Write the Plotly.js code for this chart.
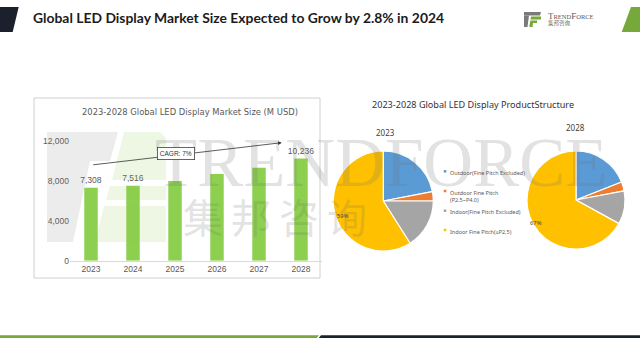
<!DOCTYPE html>
<html><head><meta charset="utf-8">
<script src="https://cdn.plot.ly/plotly-3.0.1.min.js"></script>
<style>html,body{margin:0;padding:0;background:#fff;} #chart{width:640px;height:360px;}</style>
</head><body><div id="chart"></div>
<script>
// ---- data ----
const years = ['2023', '2024', '2025', '2026', '2027', '2028'];
const marketSize = [7308, 7516, 7990, 8690, 9320, 10236];
const labeledYears = ['2023', '2024', '2028'];
const yTicks = [0, 4000, 8000, 12000];
const productTypes = ['Outdoor(Fine Pitch Excluded)', 'Outdoor Fine Pitch<br>(P2.5~P4.0)', 'Indoor(Fine Pitch Excluded)', 'Indoor Fine Pitch(≤P2.5)'];
const share2023 = [22, 3, 16, 59];
const share2028 = [19, 3, 11, 67];
const labeledSliceIndex = 3;
const sliceColors = ['#5b9bd5', '#ed7d31', '#a5a5a5', '#ffc000'];
const cagrLabel = 'CAGR: 7%';
const pageTitle = 'Global LED Display Market Size Expected to Grow by 2.8% in 2024';
const barTitle = '2023-2028 Global LED Display Market Size (M USD)';
const pieTitle = '2023-2028 Global LED Display ProductStructure';

// ---- helpers (pixel -> paper) ----
const W = 640, H = 360;
const px = x => x / W;
const py = y => 1 - y / H;
const path = pts => 'M' + pts.map(p => px(p[0]).toFixed(5) + ',' + py(p[1]).toFixed(5)).join(' L') + ' Z';
const poly = (pts, color, op) => ({type: 'path', xref: 'paper', yref: 'paper', path: path(pts), fillcolor: color, line: {width: 0}, opacity: op === undefined ? 1 : op, layer: 'above'});

const grey = '#595959';

const barTrace = {
  type: 'bar', x: years, y: marketSize, width: 0.32,
  marker: {color: '#8dcf4f'},
  texttemplate: years.map(y => labeledYears.includes(y) ? '%{y:,}' : ''),
  textposition: 'outside', cliponaxis: false, constraintext: 'none',
  textfont: {family: 'Liberation Sans, Arial, sans-serif', size: 8.5, color: grey},
  hoverinfo: 'none', xaxis: 'x', yaxis: 'y', showlegend: false
};

function pieTrace(vals, dom) {
  return {
    type: 'pie', labels: productTypes, values: vals, sort: false, direction: 'clockwise', rotation: 0,
    marker: {colors: sliceColors, line: {color: '#ffffff', width: 1.2}},
    textinfo: 'none',
    domain: dom, showlegend: false, hoverinfo: 'none'
  };
}
const pie23 = pieTrace(share2023, {x: [px(333.3), px(433.3)], y: [py(251), py(151)]});
const pie28 = pieTrace(share2028, {x: [px(527), px(625)], y: [py(249), py(151)]});
const pct = vals => Math.round(100 * vals[labeledSliceIndex] / vals.reduce((a, b) => a + b, 0)) + '%';

const shapes = [
  // header blocks
  poly([[0, 7], [18.7, 7], [12.7, 32], [0, 32]], '#1b202d'),
  poly([[631, 7], [640, 7], [640, 32], [621.7, 32]], '#76a83a'),
  // header logo icon
  poly([[524, 12], [541, 12], [540, 15.5], [524, 15.5]], '#7a7a7a'),
  poly([[524, 15.5], [529, 15.5], [527.5, 27], [524, 27]], '#7a7a7a'),
  poly([[531, 16.5], [541, 16.5], [541, 19.5], [530.5, 19.5]], '#76a83a'),
  poly([[530.3, 20.5], [537, 20.5], [537, 23], [530, 23]], '#76a83a'),
  poly([[529.8, 23], [533, 23], [532.5, 27], [529.3, 27]], '#76a83a'),
  // watermark logo
  poly([[47, 132], [118, 132], [110, 161], [47, 161]], '#8a8a8a', 0.16),
  poly([[47, 161], [90, 161], [73, 242], [47, 242]], '#8a8a8a', 0.16),
  poly([[124, 132], [160, 132], [166, 138], [166, 180], [112, 180]], '#8dcf4f', 0.16),
  poly([[110, 186], [166, 186], [166, 200], [106, 200]], '#8dcf4f', 0.16),
  poly([[104, 206], [166, 206], [166, 242], [95, 242]], '#8dcf4f', 0.16),
  // bar chart frame
  {type: 'rect', xref: 'paper', yref: 'paper', x0: px(34), x1: px(320), y0: py(278), y1: py(98), line: {color: '#d0d0d0', width: 1}, fillcolor: 'rgba(0,0,0,0)', layer: 'below'},
  // bottom lines
  poly([[0, 335.3], [319, 335.3], [316.7, 338], [0, 338]], '#76a83a'),
  poly([[321, 335.3], [640, 335.3], [640, 338], [318.7, 338]], '#1c2130')
];
// legend markers
const legendY = [171.3, 191, 210.7, 230];
productTypes.forEach((t, i) => {
  shapes.push({type: 'rect', xref: 'paper', yref: 'paper', x0: px(443.8), x1: px(446.3), y0: py(legendY[i] + 1.25), y1: py(legendY[i] - 1.25), fillcolor: sliceColors[i], line: {width: 0}});
});

const wm = 'rgba(110,110,110,0.2)';
const annotations = [
  {text: '<b>' + pageTitle + '</b>', x: px(30.5), y: py(17.5), xref: 'paper', yref: 'paper', xanchor: 'left', yanchor: 'middle', showarrow: false, font: {family: 'Lato, sans-serif', size: 13.9, color: '#1b1b1b'}},
  {text: 'T<span style="font-size:6.5px">REND</span>F<span style="font-size:6.5px">ORCE</span>', x: px(545.5), y: py(16), xref: 'paper', yref: 'paper', xanchor: 'left', yanchor: 'middle', showarrow: false, font: {family: 'Liberation Serif, serif', size: 9, color: '#5a5a5a'}},
  {text: '集邦咨询', x: px(545.5), y: py(23.5), xref: 'paper', yref: 'paper', xanchor: 'left', yanchor: 'middle', showarrow: false, font: {family: 'Noto Sans CJK SC, sans-serif', size: 5.5, color: '#666'}},
  // watermark text
  {text: 'TRENDFORCE', x: px(381), y: py(163), xref: 'paper', yref: 'paper', xanchor: 'center', yanchor: 'middle', showarrow: false, font: {family: 'Liberation Serif, serif', size: 69, color: wm}},
  {text: '集\u2009邦\u2009咨\u2009询', x: px(275), y: py(216), xref: 'paper', yref: 'paper', xanchor: 'center', yanchor: 'middle', showarrow: false, font: {family: 'Noto Sans CJK SC, sans-serif', size: 40, color: wm}},
  // bar chart title
  {text: barTitle, x: px(190), y: py(112), xref: 'paper', yref: 'paper', xanchor: 'center', yanchor: 'middle', showarrow: false, font: {family: 'DejaVu Sans, sans-serif', size: 8.4, color: grey}},
  // CAGR arrow & box
  {text: '', x: px(281.7), y: py(142.7), xref: 'paper', yref: 'paper', ax: -190, ay: 22.3, showarrow: true, arrowhead: 2, arrowsize: 0.9, arrowwidth: 0.8, arrowcolor: '#333', standoff: 0},
  {text: cagrLabel, x: px(176.2), y: py(153.6), xref: 'paper', yref: 'paper', xanchor: 'center', yanchor: 'middle', showarrow: false, bgcolor: '#fff', bordercolor: '#404040', borderwidth: 0.8, borderpad: 2, font: {family: 'Liberation Sans, Arial, sans-serif', size: 6.5, color: '#333'}},
  // pie titles
  {text: pieTitle, x: px(473), y: py(104.5), xref: 'paper', yref: 'paper', xanchor: 'center', yanchor: 'middle', showarrow: false, font: {family: 'Noto Sans, sans-serif', size: 9.1, color: '#333'}},
  {text: '2023', x: px(385), y: py(132.5), xref: 'paper', yref: 'paper', xanchor: 'center', yanchor: 'middle', showarrow: false, font: {family: 'Noto Sans, sans-serif', size: 8, color: '#404040'}},
  {text: '2028', x: px(575), y: py(127), xref: 'paper', yref: 'paper', xanchor: 'center', yanchor: 'middle', showarrow: false, font: {family: 'Noto Sans, sans-serif', size: 8, color: '#404040'}},
  // pie percentage labels
  {text: pct(share2023), x: px(343), y: py(216), xref: 'paper', yref: 'paper', xanchor: 'center', yanchor: 'middle', showarrow: false, font: {family: 'Noto Sans, sans-serif', size: 5.8, color: '#404040'}},
  {text: pct(share2028), x: px(536), y: py(222.5), xref: 'paper', yref: 'paper', xanchor: 'center', yanchor: 'middle', showarrow: false, font: {family: 'Noto Sans, sans-serif', size: 5.8, color: '#404040'}}
];
// legend labels
productTypes.forEach((t, i) => {
  annotations.push({text: t, x: px(447.5), y: py(legendY[i]), xref: 'paper', yref: 'paper', xanchor: 'left', yanchor: 'top', yshift: 4.3, align: 'left', showarrow: false, font: {family: 'Noto Sans, sans-serif', size: 5.5, color: grey}});
});

const layout = {
  width: W, height: H, margin: {l: 0, r: 0, t: 0, b: 0},
  paper_bgcolor: '#fff', plot_bgcolor: 'rgba(0,0,0,0)',
  showlegend: false,
  xaxis: {domain: [px(70), px(322)], type: 'category', range: [-0.5, 5.5], showgrid: false, zeroline: false,
          showline: true, linecolor: '#d9d9d9', linewidth: 1, ticks: '', fixedrange: true,
          tickfont: {family: 'Liberation Sans, Arial, sans-serif', size: 8.5, color: grey}},
  yaxis: {domain: [py(260.7), py(141)], range: [0, 12000], tickvals: yTicks, tickformat: ',', showgrid: false,
          zeroline: false, showline: false, ticks: '', fixedrange: true,
          tickfont: {family: 'Liberation Sans, Arial, sans-serif', size: 8.5, color: grey}},
  shapes: shapes, annotations: annotations
};

Plotly.newPlot('chart', [barTrace, pie23, pie28], layout, {staticPlot: true, displayModeBar: false});
</script></body></html>
